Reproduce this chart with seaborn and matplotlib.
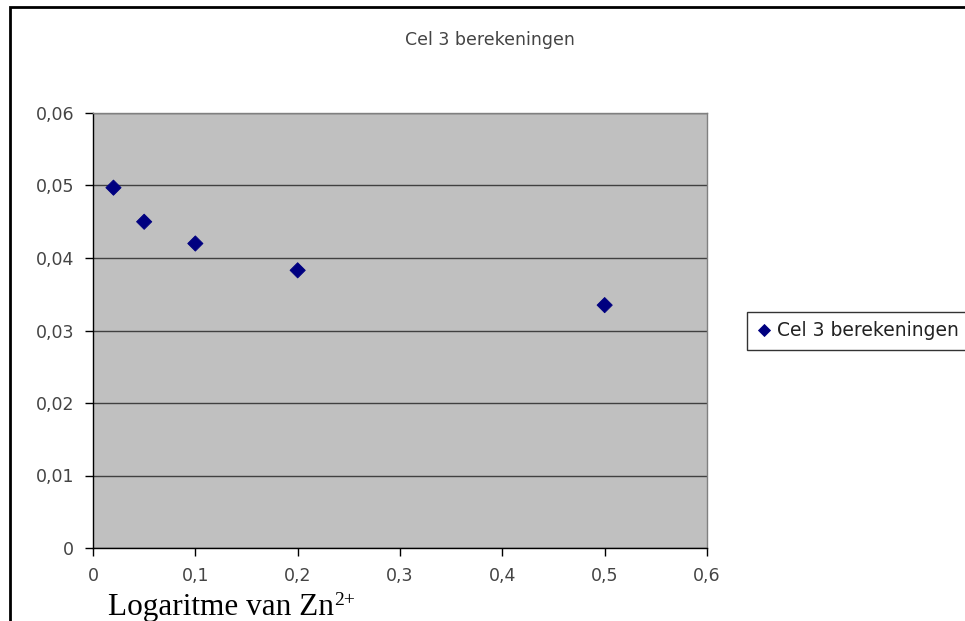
import matplotlib
matplotlib.use("Agg")
import matplotlib.pyplot as plt
import matplotlib.ticker as mticker
import seaborn as sns
import pandas as pd

# Data
concentratie = [0.02, 0.05, 0.1, 0.2, 0.5]
berekening = [0.0497, 0.0450, 0.0420, 0.0383, 0.0335]
serie_naam = "Cel 3 berekeningen"

df = pd.DataFrame({"x": concentratie, "y": berekening, "serie": serie_naam})

sns.set_style("white")
plt.rcParams["font.family"] = ["DejaVu Sans"]

W, H = 965, 621
fig = plt.figure(figsize=(W / 100, H / 100), dpi=100)
ax = fig.add_axes([93 / W, 1 - 548 / H, (707 - 93) / W, (548 - 113) / H])

sns.scatterplot(data=df, x="x", y="y", hue="serie", palette=["#000080"],
                marker="D", s=60, edgecolor="#000080", ax=ax, zorder=3)

ax.set_facecolor("#C0C0C0")
ax.set_xlim(0, 0.6)
ax.set_ylim(0, 0.06)
ax.set_xticks([0, 0.1, 0.2, 0.3, 0.4, 0.5, 0.6])
ax.set_yticks([0, 0.01, 0.02, 0.03, 0.04, 0.05, 0.06])

comma = mticker.FuncFormatter(lambda v, p: "0" if v == 0 else f"{v:g}".replace(".", ","))
ax.xaxis.set_major_formatter(comma)
ax.yaxis.set_major_formatter(comma)

ax.yaxis.grid(True, color="#404040", linewidth=1.0)
ax.xaxis.grid(False)
ax.set_axisbelow(True)

for side in ["top", "right"]:
    ax.spines[side].set_color("#808080")
    ax.spines[side].set_linewidth(1.0)
for side in ["left", "bottom"]:
    ax.spines[side].set_color("black")
    ax.spines[side].set_linewidth(1.0)

ax.tick_params(axis="both", direction="out", length=5.5, width=1, color="black",
               labelsize=12.5, labelcolor="#444444", left=True, bottom=True)
ax.tick_params(axis="x", pad=8)
ax.tick_params(axis="y", pad=8)

ax.set_xlabel("")
ax.set_ylabel("")

fig.text(490 / W, 1 - 40 / H, serie_naam, ha="center", va="center",
         fontsize=12.5, color="#444444")

# x label sits low in the chart area, left-aligned, in a serif face
serif = ["Liberation Serif", "DejaVu Serif"]
lbl = fig.text(108 / W, 1 - 615 / H, "Logaritme van Zn", ha="left",
               va="baseline", fontsize=22.5, color="black", family=serif)
fig.canvas.draw()
bb = lbl.get_window_extent()
fig.text(bb.x1 / W, (1 - 615 / H) + 10 / H, "2+", ha="left", va="baseline",
         fontsize=14, color="black", family=serif)

leg = ax.get_legend()
if leg is not None:
    leg.remove()
handles, labels = ax.get_legend_handles_labels()
fig.legend(handles, labels, loc="center left", bbox_to_anchor=(747 / W, 1 - 331 / H),
           frameon=True, fancybox=False, edgecolor="black", fontsize=13.5,
           handletextpad=0.3, borderpad=0.5, markerscale=0.85, handlelength=0.8,
           borderaxespad=0, labelcolor="#222222")

# outer chart border (cut off on the right and bottom, as in the reference)
border = plt.Rectangle((10 / W, -0.05), 1.2, 1 - 7 / H + 0.05, transform=fig.transFigure,
                       fill=False, edgecolor="black", linewidth=2)
fig.patches.append(border)

fig.savefig("out.png", dpi=100)
